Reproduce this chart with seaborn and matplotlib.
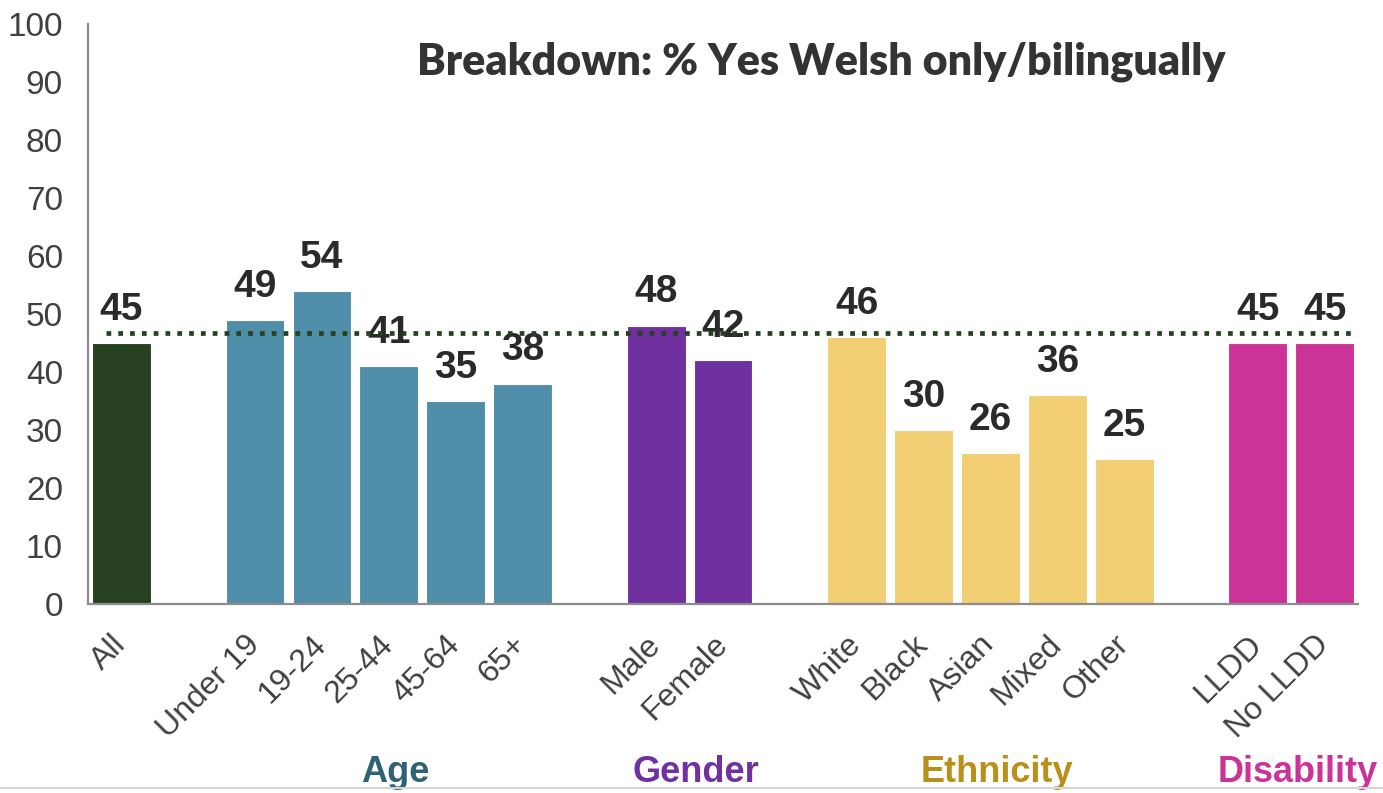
import numpy as np
import pandas as pd
import matplotlib
matplotlib.use("Agg")
import matplotlib.pyplot as plt
import seaborn as sns
from matplotlib.lines import Line2D

# -----------------------------
# DATA
# -----------------------------
categories = ["All",
              "Under 19", "19-24", "25-44", "45-64", "65+",
              "Male", "Female",
              "White", "Black", "Asian", "Mixed", "Other",
              "LLDD", "No LLDD"]
values = [45, 49, 54, 41, 35, 38, 48, 42, 46, 30, 26, 36, 25, 45, 45]
groups = ["All",
          "Age", "Age", "Age", "Age", "Age",
          "Gender", "Gender",
          "Ethnicity", "Ethnicity", "Ethnicity", "Ethnicity", "Ethnicity",
          "Disability", "Disability"]
average_line = 46.7
title = "Breakdown: % Yes Welsh only/bilingually"

group_names = ["All", "Age", "Gender", "Ethnicity", "Disability"]
bar_colors = ["#264020", "#4E8EA8", "#7030A0", "#F2CF75", "#CC3399"]
label_colors = [None, "#2E6274", "#7030A0", "#B8901A", "#CC3399"]

# slot order with an empty slot between groups
order = []
prev = None
for c, g in zip(categories, groups):
    if prev is not None and g != prev:
        order.append(" " * (len(order) + 1))
    order.append(c)
    prev = g

df = pd.DataFrame({"category": categories, "value": values, "group": groups})

# -----------------------------
# PLOT
# -----------------------------
sns.set_style("white")
plt.rcParams["font.family"] = ["Liberation Sans", "DejaVu Sans"]

fig = plt.figure(figsize=(13.83, 7.93), dpi=100)
ax = fig.add_axes([0.0636, 0.2383, 0.9184, 0.7314])

sns.barplot(data=df, x="category", y="value", hue="group", order=order,
            hue_order=group_names, palette=bar_colors, saturation=1,
            width=0.88, dodge=False, legend=False, edgecolor="white",
            linewidth=0.8, ax=ax)

for cont in ax.containers:
    ax.bar_label(cont, fmt="%d", padding=11, fontsize=28, fontweight="bold",
                 color="#2A2A2A")

ax.hlines(average_line, -0.23, len(order) - 0.52, colors="#264020",
          linestyles=(0, (1, 1.5)), linewidth=3.4, zorder=5)

ax.set_xlim(-0.5, len(order) - 0.5)
ax.set_ylim(0, 100)
ax.set_yticks(range(0, 101, 10))
ax.set_xticks(range(len(order)))
ax.set_xticklabels([o if o.strip() else "" for o in order], rotation=45,
                   ha="right", va="center", rotation_mode="anchor")
ax.tick_params(axis="x", length=0, pad=26, labelsize=23, labelcolor="#404040")
ax.tick_params(axis="y", length=0, pad=18, labelsize=24, labelcolor="#404040")
ax.set_xlabel("")
ax.set_ylabel("")

sns.despine(ax=ax, top=True, right=True)
for side in ["left", "bottom"]:
    ax.spines[side].set_color("#8C8C8C")
    ax.spines[side].set_linewidth(1.6)

# group labels under the tick labels
pos = {c: i for i, c in enumerate(order)}
for g, col in zip(group_names, label_colors):
    if col is None:
        continue
    xs = [pos[c] for c, gg in zip(categories, groups) if gg == g]
    ax.text(np.mean(xs) + 0.1, -0.29, g, transform=ax.get_xaxis_transform(),
            ha="center", va="center", fontsize=26, fontweight="bold",
            color=col, clip_on=False)

fig.text(0.594, 0.922, title, ha="center", va="center", fontsize=31,
         fontweight="heavy", color="#333333", family=["Lato", "DejaVu Sans"])

fig.add_artist(Line2D([0, 1], [0.006, 0.006], color="#D4D4D4", linewidth=1.5,
                      transform=fig.transFigure))

fig.savefig("out.png", dpi=100)
plt.close(fig)
